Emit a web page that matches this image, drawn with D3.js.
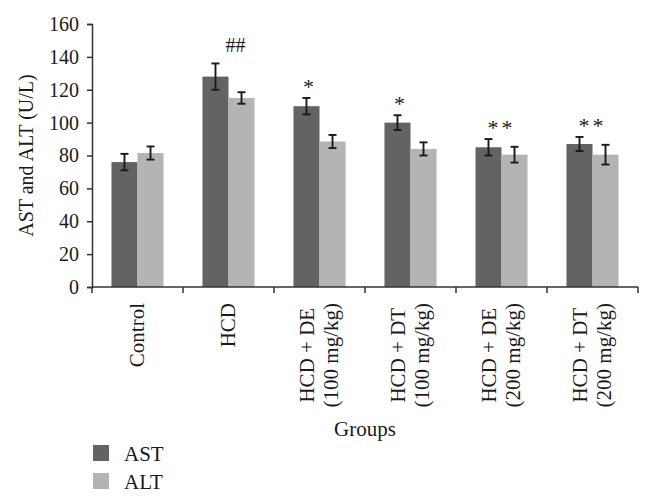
<!DOCTYPE html>
<html>
<head>
<meta charset="utf-8">
<script src="https://cdn.jsdelivr.net/npm/d3@7"></script>
<style>
  body { margin: 0; background: #fff; }
  svg { display: block; }
</style>
</head>
<body>
<div id="chart"></div>
<script>
// groups, each label split into its lines
const groupLines = [
    ["Control"],
    ["HCD"],
    ["HCD + DE", "(100 mg/kg)"],
    ["HCD + DT", "(100 mg/kg)"],
    ["HCD + DE", "(200 mg/kg)"],
    ["HCD + DT", "(200 mg/kg)"]
];
const seriesNames = ["AST", "ALT"];
const astValues = [76, 128, 110, 100, 85, 87];
const astErrors = [5, 8, 5, 4.5, 5, 4.3];
const altValues = [81.5, 115, 88.5, 84, 80.5, 80.5];
const altErrors = [4, 3.5, 4, 4, 4.8, 6];
const marks = ["", "##", "*", "*", "**", "**"];
const yTicks = [0, 20, 40, 60, 80, 100, 120, 140, 160];

const W = 653, H = 502;
const FONT = '"Liberation Serif", "Times New Roman", serif';
const colors = { AST: "#636363", ALT: "#b4b4b4" };
const axisColor = "#333";
const ink = "#1a1a1a";

const svg = d3.select("#chart").append("svg")
    .attr("width", W)
    .attr("height", H)
    .style("font-family", FONT);

// helper: every text gets the serif font inline
const addText = (sel, size) => sel.append("text")
    .style("font-family", FONT)
    .attr("font-size", size)
    .attr("fill", ink);

const groupIds = groupLines.map((d, i) => "g" + i);

const x = d3.scaleBand()
    .domain(groupIds)
    .range([92, 638])
    .padding(0);

const y = d3.scaleLinear()
    .domain([0, 160])
    .range([287, 24]);

const barW = x.bandwidth() * 0.286;

// 数据整理
const bars = [];
groupIds.forEach((id, i) => {
    bars.push({ id, series: "AST", value: astValues[i], err: astErrors[i], k: 0 });
    bars.push({ id, series: "ALT", value: altValues[i], err: altErrors[i], k: 1 });
});
const barX = d => x(d.id) + x.bandwidth() / 2 - barW + d.k * barW;

// bars
svg.append("g")
    .selectAll("rect")
    .data(bars)
    .enter()
    .append("rect")
    .attr("x", barX)
    .attr("y", d => y(d.value))
    .attr("width", barW)
    .attr("height", d => y(0) - y(d.value))
    .attr("fill", d => colors[d.series]);

// error bars
const eb = svg.append("g")
    .attr("stroke", ink)
    .attr("stroke-width", 1.9)
    .selectAll("g")
    .data(bars)
    .enter()
    .append("g")
    .attr("transform", d => `translate(${barX(d) + barW / 2},0)`);
eb.append("line")
    .attr("y1", d => y(d.value - d.err))
    .attr("y2", d => y(d.value + d.err));
eb.append("line")
    .attr("x1", -4).attr("x2", 4)
    .attr("y1", d => y(d.value + d.err))
    .attr("y2", d => y(d.value + d.err));
eb.append("line")
    .attr("x1", -4).attr("x2", 4)
    .attr("y1", d => y(d.value - d.err))
    .attr("y2", d => y(d.value - d.err));

// significance marks above AST bars
const markG = svg.append("g");
groupIds.forEach((id, i) => {
    const m = marks[i];
    if (!m) return;
    const isHash = m[0] === "#";
    const astCenter = x(id) + x.bandwidth() / 2 - barW / 2;
    const dx = isHash ? 20 : (m.length > 1 ? 13 : 2);
    addText(markG, isHash ? 20 : 22)
        .attr("x", astCenter + dx)
        .attr("y", y(astValues[i] + astErrors[i]) - (isHash ? 11 : 4))
        .attr("text-anchor", "middle")
        .attr("letter-spacing", m === "**" ? 3 : 0)
        .text(m);
});

// y axis
const yAxis = svg.append("g")
    .attr("transform", "translate(92,0)")
    .call(d3.axisLeft(y).tickValues(yTicks).tickSize(5).tickPadding(8));
yAxis.selectAll("text")
    .attr("font-size", 20)
    .attr("fill", ink)
    .style("font-family", FONT);
yAxis.selectAll("line, path").attr("stroke", axisColor).attr("stroke-width", 1.5);

// x axis: ticks at band edges
const xAxis = svg.append("g").attr("stroke", axisColor).attr("stroke-width", 1.5);
xAxis.append("line")
    .attr("x1", x.range()[0]).attr("x2", x.range()[1])
    .attr("y1", y(0)).attr("y2", y(0));
xAxis.selectAll("line.tick")
    .data(groupIds.map(id => x(id)).concat([x.range()[1]]))
    .enter()
    .append("line")
    .attr("class", "tick")
    .attr("x1", d => d).attr("x2", d => d)
    .attr("y1", y(0)).attr("y2", y(0) + 6);

// rotated group labels
const labelTop = 303;
groupIds.forEach((id, i) => {
    const lines = groupLines[i];
    const gc = x(id) + x.bandwidth() / 2;
    const base = lines.length === 1 ? [gc + 6] : [gc - 6, gc + 18];
    const texts = lines.map(s => addText(svg, 21)
        .attr("text-anchor", "middle")
        .text(s));
    const maxLen = d3.max(texts, t => t.node().getComputedTextLength());
    texts.forEach((t, j) => {
        const len = lines.length === 1 ? t.node().getComputedTextLength() : maxLen;
        t.attr("transform", `translate(${base[j]},${labelTop + len / 2}) rotate(-90)`);
    });
});

// axis titles
addText(svg, 20)
    .attr("transform", `translate(33,${(y(0) + y(160)) / 2}) rotate(-90)`)
    .attr("text-anchor", "middle")
    .text("AST and ALT (U/L)");

addText(svg, 21)
    .attr("x", (x.range()[0] + x.range()[1]) / 2)
    .attr("y", 436)
    .attr("text-anchor", "middle")
    .text("Groups");

// legend
const legend = svg.append("g")
    .selectAll("g")
    .data(seriesNames)
    .enter()
    .append("g")
    .attr("transform", (d, i) => `translate(93,${445 + i * 28})`);
legend.append("rect")
    .attr("width", 16).attr("height", 16)
    .attr("fill", d => colors[d]);
legend.each(function (d) {
    addText(d3.select(this), 21)
        .attr("x", 31).attr("y", 16)
        .text(d);
});
</script>
</body>
</html>
